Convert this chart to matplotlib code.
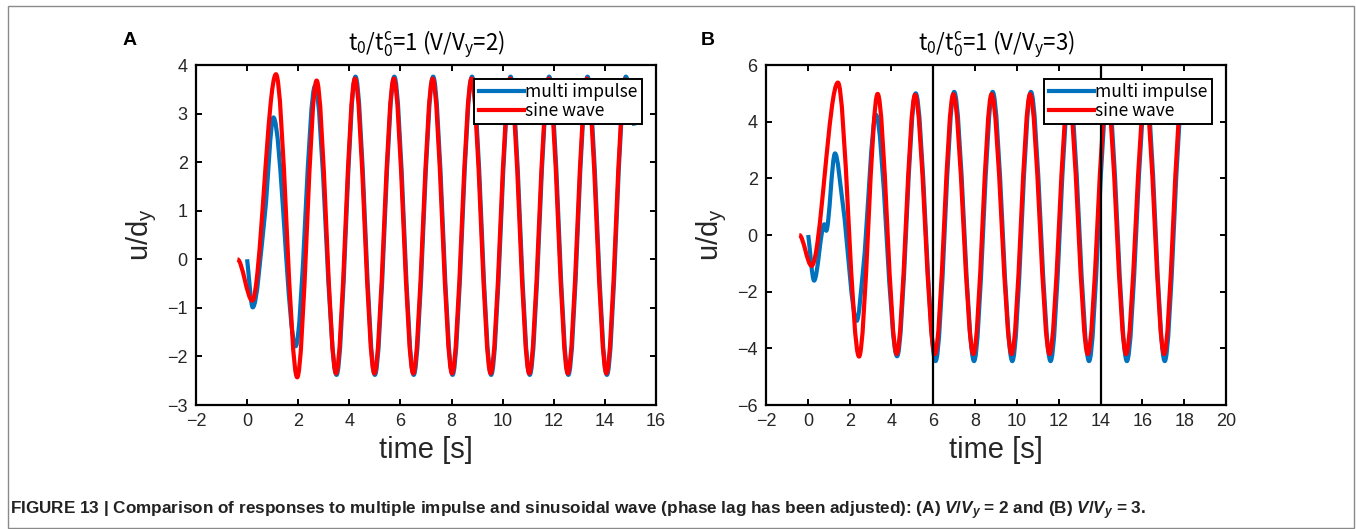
import numpy as np
import matplotlib
matplotlib.use("Agg")
import matplotlib.pyplot as plt
from matplotlib.path import Path
from matplotlib.patches import PathPatch, Rectangle
from matplotlib.lines import Line2D

plt.rcParams['font.family'] = ['Liberation Sans', 'DejaVu Sans']
plt.rcParams['mathtext.default'] = 'regular'
plt.rcParams['mathtext.fontset'] = 'custom'
plt.rcParams['mathtext.it'] = 'Liberation Sans:italic:bold'
plt.rcParams['mathtext.rm'] = 'Liberation Sans:bold'

# ---------------- data ----------------
# Panel A  (V/Vy = 2): extrema / knots of each response
a_sine_t = [-0.38, 0.20, 1.13, 1.96, 2.72, 3.48, 4.22, 4.98, 5.74, 6.50, 7.26, 8.02,
            8.78, 9.53, 10.29, 11.04, 11.80, 12.55, 13.30, 14.06, 14.80]
a_sine_u = [0.0, -0.85, 3.81, -2.43, 3.68, -2.35, 3.72, -2.35, 3.72, -2.35, 3.72, -2.35,
            3.72, -2.35, 3.72, -2.35, 3.72, -2.35, 3.72, -2.35, 3.72]
a_imp_t = [0.00, 0.22, 0.70, 1.03, 1.90, 2.66, 3.50, 4.24, 5.00, 5.76, 6.52, 7.28,
           8.04, 8.80, 9.55, 10.31, 11.06, 11.82, 12.57, 13.32, 14.08, 14.82, 15.15]
a_imp_u = [0.0, -0.99, 0.95, 2.92, -1.79, 3.57, -2.38, 3.76, -2.38, 3.76, -2.38, 3.76,
           -2.38, 3.76, -2.38, 3.76, -2.38, 3.76, -2.38, 3.76, -2.38, 3.76, 2.75]

# Panel B  (V/Vy = 3)
b_sine_t = [-0.41, 0.18, 1.44, 2.45, 3.34, 4.25, 5.13, 6.08, 6.96, 7.92, 8.79, 9.75,
            10.63, 11.56, 12.47, 13.39, 14.31, 15.22, 16.14, 17.04, 17.90]
b_sine_u = [0.0, -1.09, 5.38, -4.29, 4.98, -4.20, 4.95, -4.20, 4.97, -4.20, 4.97, -4.20,
            4.97, -4.20, 4.97, -4.20, 4.97, -4.20, 4.97, -4.20, 4.95]
b_imp_t = [0.02, 0.30, 0.79, 0.88, 1.30, 1.68, 2.34, 2.65, 3.26, 4.27, 5.16, 6.11, 7.00,
           7.95, 8.84, 9.78, 10.67, 11.61, 12.51, 13.45, 14.35, 15.26, 16.18, 17.07, 17.95]
b_imp_u = [0.0, -1.61, 0.38, 0.15, 2.88, 1.05, -3.03, -1.18, 4.24, -4.28, 5.00, -4.45, 5.05,
           -4.45, 5.05, -4.45, 5.05, -4.45, 5.05, -4.45, 5.05, -4.45, 5.05, -4.45, 5.00]

series_labels = ['multi impulse', 'sine wave']
panel_letters = ['A', 'B']
titles = [r't$_0$/t$_0^c$=1 (V/V$_y$=2)', r't$_0$/t$_0^c$=1 (V/V$_y$=3)']
xticks_a = list(range(-2, 17, 2))
yticks_a = list(range(-3, 5, 1))
xticks_b = list(range(-2, 21, 2))
yticks_b = list(range(-6, 7, 2))
b_vlines = [6, 14]

BLUE = '#0072BD'
RED = '#FF0000'
JP = ['Noto Sans CJK JP', 'DejaVu Sans']


def smooth_curve(ax, t, u, color, lw, rest_start, rest_end, z):
    """Draw a smooth (monotone cubic Bezier) curve through the given knots."""
    t = np.asarray(t, float)
    u = np.asarray(u, float)
    h = np.diff(t)
    d = np.diff(u) / h
    m = np.zeros_like(t)
    for k in range(1, len(t) - 1):
        if d[k - 1] * d[k] > 0:
            w1 = 2 * h[k] + h[k - 1]
            w2 = h[k] + 2 * h[k - 1]
            m[k] = (w1 + w2) / (w1 / d[k - 1] + w2 / d[k])
    m[0] = 0.0 if rest_start else d[0]
    m[-1] = 0.0 if rest_end else d[-1]
    verts = [(t[0], u[0])]
    codes = [Path.MOVETO]
    for k in range(len(t) - 1):
        hk = h[k]
        verts += [(t[k] + hk / 3, u[k] + m[k] * hk / 3),
                  (t[k + 1] - hk / 3, u[k + 1] - m[k + 1] * hk / 3),
                  (t[k + 1], u[k + 1])]
        codes += [Path.CURVE4] * 3
    patch = PathPatch(Path(verts, codes), fill=False, edgecolor=color, lw=lw,
                      capstyle='butt', joinstyle='round', zorder=z)
    ax.add_patch(patch)


fig = plt.figure(figsize=(13.56, 5.29), dpi=100)
W, H = 1356, 529

axA = fig.add_axes([196 / W, (H - 405) / H, 460 / W, 340 / H])
axB = fig.add_axes([766 / W, (H - 405) / H, 460 / W, 340 / H])

LW = 3.0
smooth_curve(axA, a_imp_t, a_imp_u, BLUE, LW, False, False, 3)
smooth_curve(axA, a_sine_t, a_sine_u, RED, LW, True, True, 4)
smooth_curve(axB, b_imp_t, b_imp_u, BLUE, LW, False, True, 3)
smooth_curve(axB, b_sine_t, b_sine_u, RED, LW, True, True, 4)
for xv in b_vlines:
    axB.axvline(xv, color='black', lw=1.6, zorder=5)

for ax, xt, yt, ttl, letter, xl in [
        (axA, xticks_a, yticks_a, titles[0], panel_letters[0], 130),
        (axB, xticks_b, yticks_b, titles[1], panel_letters[1], 708)]:
    ax.set_xlim(xt[0], xt[-1])
    ax.set_ylim(yt[0], yt[-1])
    ax.set_xticks(xt)
    ax.set_yticks(yt)
    ax.tick_params(direction='in', length=4.5, width=1.4, top=True, right=True,
                   labelsize=13, pad=6, colors='black', labelcolor='#262626')
    for sp in ax.spines.values():
        sp.set_linewidth(1.6)
    ax.set_xlabel('time [s]', fontsize=21, labelpad=4, color='#262626')
    ax.set_ylabel(r'u/d$_y$', fontsize=21, labelpad=6, color='#262626')
    ax.set_title(ttl, fontsize=16, pad=10, family=JP)
    fig.text(xl / W, 1 - 40 / H, letter, fontsize=14, fontweight='bold',
             ha='center', va='center')
    handles = [Line2D([], [], color=BLUE, lw=LW), Line2D([], [], color=RED, lw=LW)]
    leg = ax.legend(handles, series_labels, loc='upper right',
                    handlelength=2.6, handletextpad=0.1, labelspacing=0.05,
                    borderaxespad=0.8, borderpad=0.25, fancybox=False, framealpha=1,
                    edgecolor='black', prop={'family': JP, 'size': 12.5})
    leg.get_frame().set_linewidth(1.4)
    leg.set_zorder(10)

# caption
fig.text(10 / W, 1 - 511 / H,
         r'FIGURE 13 | Comparison of responses to multiple impulse and sinusoidal wave '
         r'(phase lag has been adjusted): (A) $\mathit{V/V_y}$ = 2 and (B) $\mathit{V/V_y}$ = 3.',
         fontsize=12.3, fontweight='bold', va='center', ha='left',
         family=['Liberation Sans', 'DejaVu Sans'], color='#222222')

# outer frame
fig.patches.append(Rectangle((8 / W, 1 / H), (1354 - 8) / W, (528 - 6) / H,
                             transform=fig.transFigure, fill=False,
                             edgecolor='#8a8a8a', lw=1.0))

fig.savefig('out.png', dpi=100)
